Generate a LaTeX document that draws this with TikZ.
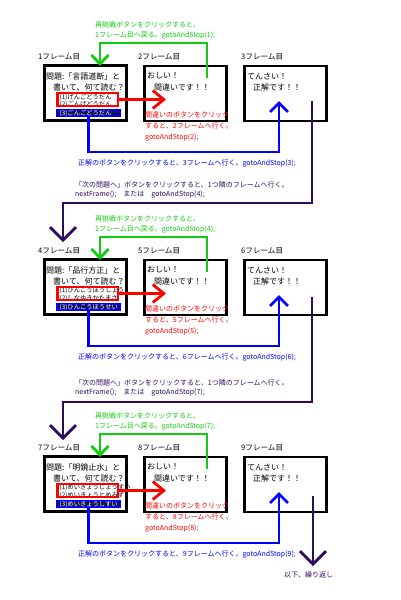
\documentclass[tikz,border=0pt]{standalone}
\usepackage{fontspec}
\setmainfont{Noto Sans CJK JP}
\usetikzlibrary{arrows.meta}
\definecolor{grn}{RGB}{17,204,17}
\definecolor{pur}{RGB}{45,12,95}
\definecolor{rd}{RGB}{255,0,0}
\definecolor{blu}{RGB}{0,0,255}
\definecolor{selbg}{RGB}{20,20,70}
\tikzset{
 frm/.style={draw=black,line width=2.8pt,fill=white,minimum width=82pt,minimum height=55pt,inner sep=0pt},
 lbl/.style={font=\fontsize{7.6}{8}\selectfont,anchor=west,inner sep=0pt},
 txt/.style={font=\fontsize{8}{9}\selectfont,anchor=west,inner sep=0pt},
 chc/.style={font=\fontsize{6.3}{7}\selectfont,anchor=west,inner sep=0pt},
 ann/.style={font=\fontsize{7}{10}\selectfont,anchor=west,inner sep=0pt,align=left},
 rbox/.style={draw=rd,line width=2.5pt,minimum width=60.5pt,minimum height=13pt,inner sep=0pt},
 bbox/.style={draw=blu,line width=2.2pt,fill=selbg,minimum width=62.8pt,minimum height=5.6pt,inner sep=0pt},
 gline/.style={draw=grn,line width=2.8pt,-{Straight Barb[length=9pt,width=17pt]}},
 rline/.style={draw=rd,line width=2.8pt,-{Straight Barb[length=11pt,width=18pt]}},
 bline/.style={draw=blu,line width=2.8pt,-{Straight Barb[length=9pt,width=18pt]}},
 pline/.style={draw=pur,line width=2.8pt,-{Straight Barb[length=13pt,width=26pt]}},
}
\newcommand{\qblock}[8]{%
\begin{scope}[yshift=-#1pt]
 \node[lbl] (l#2) at (38,57) {#2フレーム目};
 \node[lbl] (l#3) at (138,57) {#3フレーム目};
 \node[lbl] (l#4) at (241,57) {#4フレーム目};
 \node[frm] (f#2) at (85.5,93) {};
 \node[frm] (f#3) at (185.5,93.5) {};
 \node[frm] (f#4) at (285.5,93.5) {};
 \node[txt] (qa#2) at (46,76) {問題:「#5」と};
 \node[txt] (qb#2) at (53,87) {書いて、何て読む？};
 \node[chc] (ca#2) at (59.5,97) {(1)#6};
 \node[chc] (cb#2) at (59.5,104.5) {(2)#7};
 \node[rbox] (rr#2) at (87.5,99.5) {};
 \node[bbox] (br#2) at (88.5,113) {};
 \node[chc,text=white] (cc#2) at (59.5,113.2) {(3)#8};
 \node[txt] (oa#3) at (147,76) {おしい！};
 \node[txt] (ob#3) at (154,87) {間違いです！！};
 \node[txt] (ta#4) at (247,76) {てんさい！};
 \node[txt] (tb#4) at (253,87) {正解です！！};
 \node[ann,text=rd,font=\fontsize{7}{11}\selectfont] (rt#3) at (145,126.5) {間違いのボタンをクリック\\すると、#3フレームへ行く。\\gotoAndStop(#3);};
 \node[ann,text=grn] (gt#2) at (95,30) {再挑戦ボタンをクリックすると、\\1フレーム目へ戻る。gotoAndStop(#2);};
 \node[ann,text=blu] (bt#4) at (78,163) {正解のボタンをクリックすると、#4フレームへ行く。gotoAndStop(#4);};
 \coordinate (gs#2) at (207,78);
 \coordinate (ge#2) at (100,66);
 \draw[gline] (gs#2) -- (207,43) -| (ge#2);
 \coordinate (re#2) at (166,99.5);
 \draw[rline] (rr#2.east) -- (re#2);
 \coordinate (be#2) at (279,101);
 \draw[bline] (br#2.south) -- (88.5,152) -| (be#2);
\end{scope}}
\begin{document}
\begin{tikzpicture}[x=1pt,y=-1pt]
\useasboundingbox (0,0) rectangle (400,600);
\qblock{0}{1}{2}{3}{言語道断}{げんごどうだん}{ごんげどうだん}{ごんごどうだん}
\qblock{194}{4}{5}{6}{品行方正}{ひんこうほうしょう}{しなゆきかたまさ}{ひんこうほうせい}
\qblock{391}{7}{8}{9}{明鏡止水}{めいきょうじょうすい}{めいきょうとめみず}{めいきょうしすい}
% purple connectors
\node[ann,text=pur,font=\fontsize{7}{9}\selectfont] (pt1) at (75,189.5) {「次の問題へ」ボタンをクリックすると、1つ隣のフレームへ行く。\\nextFrame();　または　gotoAndStop(4);};
\node[ann,text=pur,font=\fontsize{7}{9}\selectfont] (pt2) at (75,387.5) {「次の問題へ」ボタンをクリックすると、1つ隣のフレームへ行く。\\nextFrame();　または　gotoAndStop(7);};
\coordinate (ps1) at (312,101);
\coordinate (pe1) at (63,242);
\draw[pline] (ps1) -- (312,203) -| (pe1);
\coordinate (ps2) at (312,297);
\coordinate (pe2) at (63,440);
\draw[pline] (ps2) -- (312,402) -| (pe2);
\coordinate (ps3) at (313,496);
\coordinate (pe3) at (313,566);
\draw[pline] (ps3) -- (pe3);
\node[ann,text=pur] (rep) at (284,575) {以下、繰り返し};
\end{tikzpicture}
\end{document}
